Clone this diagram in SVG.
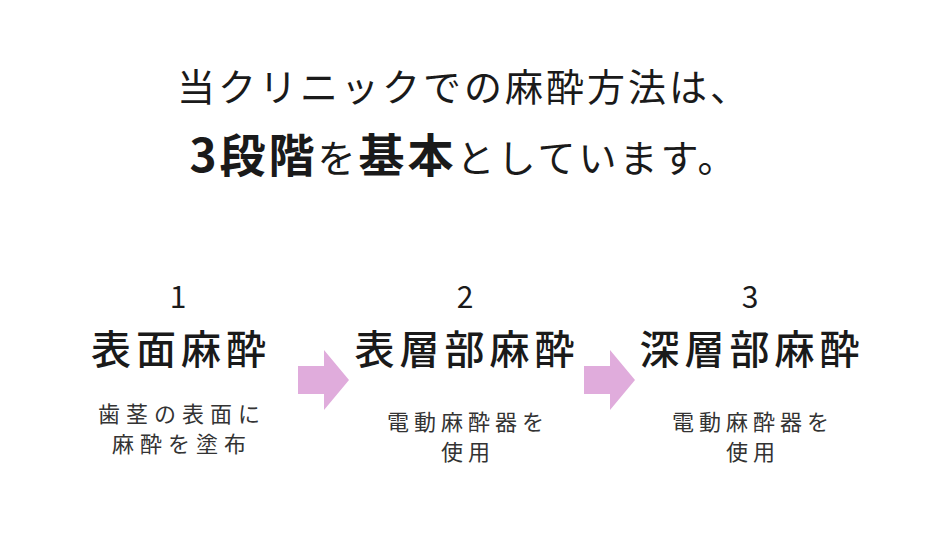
<svg xmlns="http://www.w3.org/2000/svg" width="927" height="544" viewBox="0 0 927 544">
<style>
text{font-family:"Noto Sans CJK JP","Noto Sans",sans-serif;fill:#1a1a1a;text-anchor:middle}
.t{font-size:38px;letter-spacing:3px;font-family:"Noto Sans CJK JP",serif}
.big{font-size:46px;font-weight:bold}
.n{font-size:30px}
.h{font-size:40px;font-weight:500;letter-spacing:5px}
.d{font-size:22px;fill:#333;letter-spacing:5px}
.d1{letter-spacing:6px}
.arr{fill:#e0acdc}
</style>
<rect width="927" height="544" fill="#fff"/>
<g id="title">
<text class="t" x="464" y="101">当クリニックでの麻酔方法は、</text>
<text class="t" x="464" y="172"><tspan class="big">3段階</tspan>を<tspan class="big">基本</tspan>としています。</text>
</g>
<g id="step1">
<text class="n" x="178" y="308">1</text>
<text class="h" x="181" y="364">表面麻酔</text>
<text class="d d1" x="182" y="422">歯茎の表面に</text>
<text class="d d1" x="182" y="452">麻酔を塗布</text>
</g>
<g id="step2">
<text class="n" x="465" y="308">2</text>
<text class="h" x="467" y="364">表層部麻酔</text>
<text class="d" x="468" y="430">電動麻酔器を</text>
<text class="d" x="468" y="460">使用</text>
</g>
<g id="step3">
<text class="n" x="750" y="308">3</text>
<text class="h" x="752" y="364">深層部麻酔</text>
<text class="d" x="753" y="430">電動麻酔器を</text>
<text class="d" x="753" y="460">使用</text>
</g>
<g id="connectors">
<polygon class="arr" points="298,366 324,366 324,350 349,380 324,410 324,394 298,394"/>
<polygon class="arr" points="584,366 610,366 610,350 635,380 610,410 610,394 584,394"/>
</g>
</svg>
